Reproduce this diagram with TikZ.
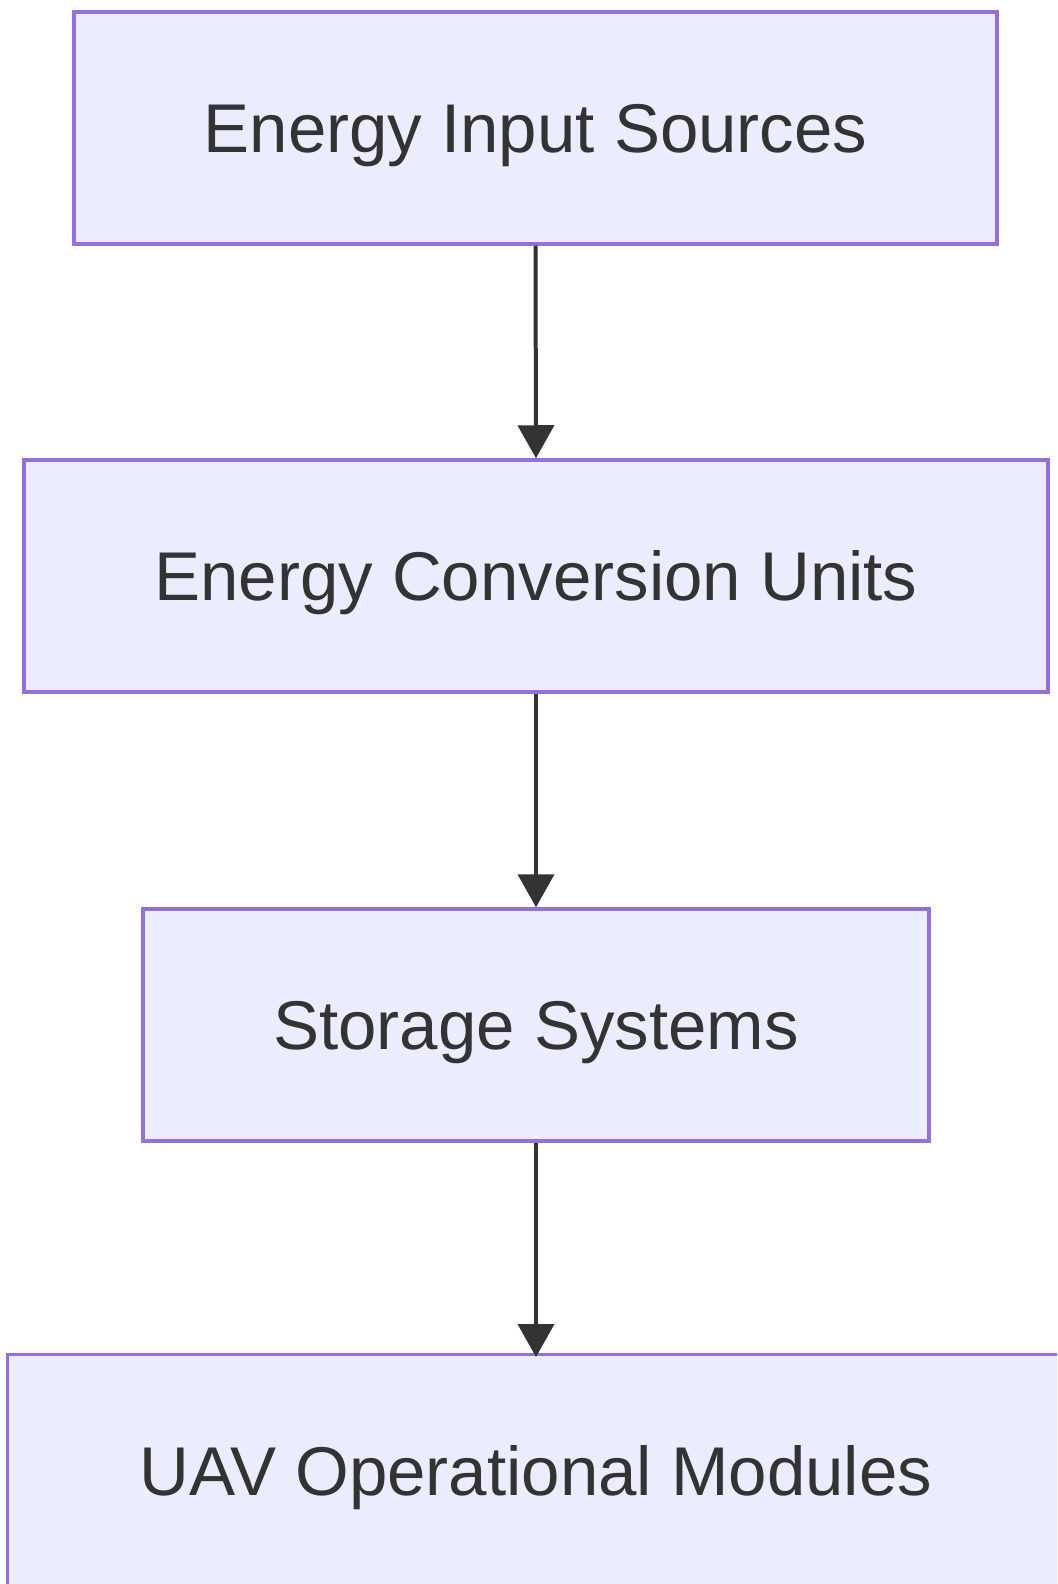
\documentclass[tikz,border=0pt]{standalone}
\usepackage{fontspec}
\setmainfont{Liberation Sans}
\usetikzlibrary{arrows.meta}
\definecolor{boxfill}{HTML}{ECECFF}
\definecolor{boxline}{HTML}{9370DB}
\definecolor{txt}{HTML}{333333}
\begin{document}
\begin{tikzpicture}[x=1pt,y=-1pt,
  box/.style={draw=boxline,fill=boxfill,line width=3.5pt,inner sep=0pt,
    minimum height=232pt,text=txt,font=\fontsize{69}{83}\selectfont,
    text height=49pt,text depth=0pt},
  flow/.style={draw=txt,line width=4pt,-{Triangle[length=33pt,width=36pt]}}]
\useasboundingbox (0,0) rectangle (1057,1584);
\clip (0,0) rectangle (1057,1584);
\fill[white] (0,0) rectangle (1057,1584);
\node[box,minimum width=923pt] (a) at (535.5,128) {Energy Input Sources};
\node[box,minimum width=1024pt] (b) at (536,576) {Energy Conversion Units};
\node[box,minimum width=786pt] (c) at (536,1025) {Storage Systems};
\node[box,draw=none,minimum width=1090pt,minimum height=230pt] (d) at (554,1471) {\hspace*{-36pt}UAV Operational Modules};
\draw[draw=boxline,line width=3.5pt] (d.north east) -- (d.north west) -- (d.south west);
\coordinate (dtop) at (536,1357);
\draw[flow] (a.south) -- (b.north);
\draw[flow] (b.south) -- (c.north);
\draw[flow] (c.south) -- (dtop);
\end{tikzpicture}
\end{document}
